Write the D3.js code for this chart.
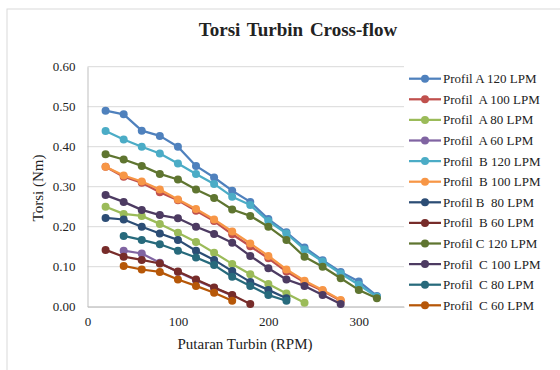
<!DOCTYPE html>
<html>
<head>
<meta charset="utf-8">
<script src="https://cdn.jsdelivr.net/npm/d3@7"></script>
<style>
  body { margin: 0; background: #fff; }
  text { font-family: "Liberation Serif", "Times New Roman", serif; fill: #222; }
</style>
</head>
<body>
<div id="chart"></div>
<script>
const rpm = [20, 40, 60, 80, 100, 120, 140, 160, 180, 200, 220, 240, 260, 280, 300, 320]

const seriesNames = ["Profil A 120 LPM", "Profil  A 100 LPM", "Profil  A 80 LPM", "Profil  A 60 LPM",
  "Profil  B 120 LPM", "Profil  B 100 LPM", "Profil B  80 LPM", "Profil  B 60 LPM",
  "Profil C 120 LPM", "Profil  C 100 LPM", "Profil  C 80 LPM", "Profil  C 60 LPM"]

const colors = ["#4F81BD", "#C0504D", "#9BBB59", "#8064A2", "#4BACC6", "#F79646",
  "#2C4D75", "#772C2A", "#5F7530", "#4D3B62", "#276A7C", "#B65708"]

// torsi values per series, null = no point at that rpm
const a120 = [0.49, 0.481, 0.44, 0.427, 0.40, 0.352, 0.323, 0.29, 0.262, 0.219, 0.186, 0.148, 0.116, 0.087, 0.063, 0.027]
const a100 = [0.35, 0.325, 0.31, 0.286, 0.266, 0.24, 0.214, 0.181, 0.151, 0.121, 0.088, 0.061, 0.04, 0.015, null, null]
const a80 = [0.25, 0.232, 0.227, 0.207, 0.185, 0.162, 0.135, 0.107, 0.081, 0.057, 0.033, 0.01, null, null, null, null]
const a60 = [null, 0.14, 0.133, 0.11, 0.087, 0.066, 0.047, 0.028, null, null, null, null, null, null, null, null]
const b120 = [0.439, 0.418, 0.40, 0.383, 0.358, 0.332, 0.307, 0.275, 0.254, 0.214, 0.183, 0.143, 0.113, 0.083, 0.055, 0.025]
const b100 = [0.35, 0.328, 0.313, 0.293, 0.268, 0.244, 0.218, 0.188, 0.158, 0.127, 0.093, 0.065, 0.042, 0.017, null, null]
const b80 = [0.222, 0.218, 0.20, 0.183, 0.167, 0.14, 0.117, 0.089, 0.062, 0.042, 0.021, null, null, null, null, null]
const b60 = [0.142, 0.125, 0.117, 0.108, 0.088, 0.068, 0.048, 0.029, 0.007, null, null, null, null, null, null, null]
const c120 = [0.381, 0.368, 0.352, 0.332, 0.318, 0.293, 0.272, 0.243, 0.227, 0.20, 0.167, 0.125, 0.10, 0.071, 0.042, 0.021]
const c100 = [0.279, 0.262, 0.242, 0.229, 0.221, 0.20, 0.182, 0.16, 0.127, 0.096, 0.068, 0.052, 0.029, 0.007, null, null]
const c80 = [null, 0.177, 0.167, 0.156, 0.14, 0.123, 0.104, 0.075, 0.052, 0.029, 0.015, null, null, null, null, null]
const c60 = [null, 0.102, 0.093, 0.087, 0.068, 0.052, 0.035, 0.015, null, null, null, null, null, null, null, null]

const allValues = [a120, a100, a80, a60, b120, b100, b80, b60, c120, c100, c80, c60]

const xTicks = [0, 100, 200, 300]
const yTicks = [0, 0.1, 0.2, 0.3, 0.4, 0.5, 0.6]

const width = 560, height = 370
const svg = d3.select("#chart").append("svg").attr("width", width).attr("height", height)

// chart border
svg.append("rect").attr("x", 7).attr("y", 9).attr("width", 600).attr("height", 400)
  .attr("fill", "#fff").attr("stroke", "#d9d9d9").attr("stroke-width", 1)

const x = d3.scaleLinear().domain([0, 350]).range([87.5, 404])
const y = d3.scaleLinear().domain([0, 0.6]).range([306.7, 66.7])

// gridlines
svg.append("g")
  .selectAll("line")
  .data(yTicks)
  .join("line")
  .attr("x1", x(0)).attr("x2", x(350))
  .attr("y1", d => y(d)).attr("y2", d => y(d))
  .attr("stroke", "#d9d9d9").attr("stroke-width", 1)

// axes
const yAxis = svg.append("g").attr("transform", `translate(${x(0)},0)`)
  .call(d3.axisLeft(y).tickValues(yTicks).tickFormat(d3.format(".2f")).tickSize(0).tickPadding(12))
yAxis.select(".domain").attr("stroke", "#bfbfbf")
yAxis.selectAll("text").attr("font-size", 13).attr("font-family", "Liberation Serif").attr("fill", "#222")

const xAxis = svg.append("g").attr("transform", `translate(0,${y(0)})`)
  .call(d3.axisBottom(x).tickValues(xTicks).tickFormat(d3.format("d")).tickSize(0).tickPadding(10))
xAxis.select(".domain").attr("stroke", "#bfbfbf")
xAxis.selectAll("text").attr("font-size", 13).attr("font-family", "Liberation Serif").attr("fill", "#222")

// series
const line = d3.line()
  .defined(d => d.v !== null)
  .x(d => x(d.r))
  .y(d => y(d.v))

allValues.forEach((vals, i) => {
  const pts = vals.map((v, j) => ({ r: rpm[j], v: v }))
  const g = svg.append("g")
  g.append("path")
    .datum(pts)
    .attr("d", line)
    .attr("fill", "none")
    .attr("stroke", colors[i])
    .attr("stroke-width", 2.25)
    .attr("stroke-linejoin", "round")
  g.selectAll("circle")
    .data(pts.filter(d => d.v !== null))
    .join("circle")
    .attr("cx", d => x(d.r))
    .attr("cy", d => y(d.v))
    .attr("r", 4)
    .attr("fill", colors[i])
})

// title + axis labels
svg.append("text").attr("x", 298).attr("y", 36).attr("text-anchor", "middle")
  .attr("font-size", 19).attr("font-weight", "bold").style("word-spacing", "2px")
  .text("Torsi Turbin Cross-flow")

svg.append("text").attr("x", 245).attr("y", 349).attr("text-anchor", "middle")
  .attr("font-size", 15).text("Putaran Turbin (RPM)")

svg.append("text").attr("transform", "translate(43,188) rotate(-90)").attr("text-anchor", "middle")
  .attr("font-size", 15).text("Torsi (Nm)")

// legend
const legend = svg.append("g")
  .selectAll("g")
  .data(seriesNames)
  .join("g")
  .attr("transform", (d, i) => `translate(409,${78.7 + i * 20.6})`)

legend.append("line").attr("x1", 0).attr("x2", 32).attr("y1", 0).attr("y2", 0)
  .attr("stroke", (d, i) => colors[i]).attr("stroke-width", 2.25)
legend.append("circle").attr("cx", 16).attr("cy", 0).attr("r", 4).attr("fill", (d, i) => colors[i])
legend.append("text").attr("x", 34).attr("y", 4.5).attr("font-size", 13)
  .style("white-space", "pre")
  .text(d => d)
</script>
</body>
</html>
